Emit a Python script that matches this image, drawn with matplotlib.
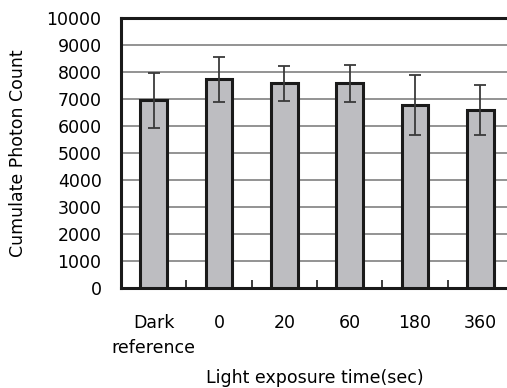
import numpy as np
import matplotlib.pyplot as plt

plt.rcParams['font.family'] = ['DejaVu Sans']

categories = ['Dark\nreference', '0', '20', '60', '180', '360']
means = [6950, 7730, 7580, 7580, 6780, 6590]
errors = [1020, 840, 660, 680, 1100, 940]
yticks = [0, 1000, 2000, 3000, 4000, 5000, 6000, 7000, 8000, 9000, 10000]

fig = plt.figure(figsize=(5.07, 3.88), dpi=100)
ax = fig.add_axes([0.2387, 0.2577, 0.773, 0.6959])

x = np.arange(len(categories))
ax.bar(x, means, width=0.41, color='#bdbdc1', edgecolor='#1a1a1a',
       linewidth=2.2, zorder=3)
ax.errorbar(x, means, yerr=errors, fmt='none', ecolor='#3a3a3a',
            elinewidth=1.3, capsize=4.3, capthick=1.3, zorder=4)

ax.set_xlim(-0.5, len(categories) - 0.5)
ax.set_ylim(0, 10000)
ax.set_yticks(yticks)
ax.set_yticklabels([str(v) for v in yticks], fontsize=12.5)
ax.set_xticks(x)
ax.set_xticklabels(categories, fontsize=12.5, linespacing=1.45, va='top')
ax.set_xticks(np.arange(0.5, len(categories) - 0.5, 1), minor=True)

ax.tick_params(axis='y', length=0, pad=14)
ax.tick_params(axis='x', which='major', length=0, pad=19)
ax.tick_params(axis='x', which='minor', direction='in', length=6,
               width=1.2, color='#1a1a1a')

ax.yaxis.grid(True, color='#808080', linewidth=1.2, zorder=0)
for s in ax.spines.values():
    s.set_linewidth(2.2)
    s.set_color('#1a1a1a')

ax.set_ylabel('Cumulate Photon Count', fontsize=12.5, va='center')
ax.yaxis.set_label_coords(-0.262, 0.5)
ax.set_xlabel('Light exposure time(sec)', fontsize=12.5, va='center')
ax.xaxis.set_label_coords(0.495, -0.333)

fig.savefig('out.png', dpi=100)
